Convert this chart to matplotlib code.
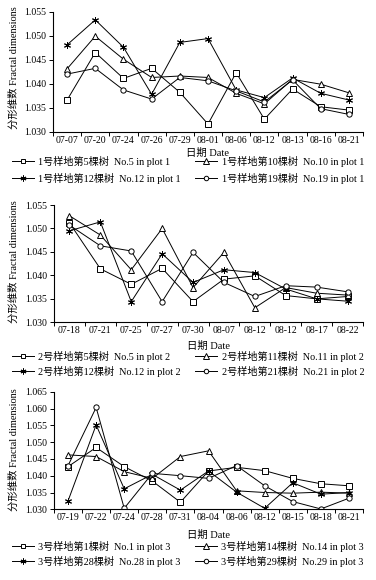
import matplotlib
matplotlib.use("Agg")
import matplotlib.pyplot as plt

plt.rcParams['font.family'] = ['Liberation Serif', 'Noto Sans CJK SC']
plt.rcParams['axes.unicode_minus'] = False

# ---- Panel 1 data ----
dates1 = ["07-07", "07-20", "07-24", "07-26", "07-29", "08-01", "08-06", "08-12", "08-13", "08-16", "08-21"]
p1_no5 = [1.0366, 1.0465, 1.0411, 1.0432, 1.0382, 1.0316, 1.0423, 1.0326, 1.0389, 1.0352, 1.0345]
p1_no10 = [1.0431, 1.0499, 1.0451, 1.0413, 1.0416, 1.0413, 1.0380, 1.0358, 1.0409, 1.0399, 1.0381]
p1_no12 = [1.0481, 1.0533, 1.0476, 1.0378, 1.0486, 1.0494, 1.0387, 1.0371, 1.0412, 1.0380, 1.0366]
p1_no19 = [1.0420, 1.0432, 1.0387, 1.0368, 1.0413, 1.0406, 1.0385, 1.0362, 1.0408, 1.0348, 1.0336]
labels1 = ["1号样地第5棵树  No.5 in plot 1", "1号样地第10棵树  No.10 in plot 1",
           "1号样地第12棵树  No.12 in plot 1", "1号样地第19棵树  No.19 in plot 1"]

# ---- Panel 2 data ----
dates2 = ["07-18", "07-21", "07-25", "07-27", "07-30", "08-07", "08-12", "08-12", "08-17", "08-22"]
p2_no5 = [1.0512, 1.0414, 1.0381, 1.0415, 1.0344, 1.0392, 1.0399, 1.0357, 1.0350, 1.0355]
p2_no11 = [1.0527, 1.0486, 1.0412, 1.0500, 1.0374, 1.0449, 1.0331, 1.0374, 1.0362, 1.0358]
p2_no12 = [1.0495, 1.0514, 1.0344, 1.0446, 1.0385, 1.0412, 1.0406, 1.0371, 1.0350, 1.0345]
p2_no21 = [1.0507, 1.0463, 1.0452, 1.0344, 1.0449, 1.0385, 1.0355, 1.0378, 1.0375, 1.0365]
labels2 = ["2号样地第5棵树  No.5 in plot 2", "2号样地第11棵树  No.11 in plot 2",
           "2号样地第12棵树  No.12 in plot 2", "2号样地第21棵树  No.21 in plot 2"]

# ---- Panel 3 data ----
dates3 = ["07-19", "07-22", "07-24", "07-28", "07-31", "08-04", "08-06", "08-12", "08-15", "08-18", "08-21"]
p3_no1 = [1.0427, 1.0484, 1.0427, 1.0384, 1.0321, 1.0414, 1.0425, 1.0415, 1.0392, 1.0376, 1.0370]
p3_no14 = [1.0462, 1.0457, 1.0412, 1.0392, 1.0457, 1.0474, 1.0355, 1.0350, 1.0348, 1.0351, 1.0348]
p3_no28 = [1.0325, 1.0551, 1.0361, 1.0404, 1.0357, 1.0414, 1.0351, 1.0303, 1.0379, 1.0345, 1.0350]
p3_no29 = [1.0430, 1.0603, 1.0303, 1.0407, 1.0400, 1.0392, 1.0430, 1.0370, 1.0323, 1.0301, 1.0333]
labels3 = ["3号样地第1棵树  No.1 in plot 3", "3号样地第14棵树  No.14 in plot 3",
           "3号样地第28棵树  No.28 in plot 3", "3号样地第29棵树  No.29 in plot 3"]

W, H = 376, 580
fig = plt.figure(figsize=(W / 100, H / 100), dpi=100)

markers = [dict(marker='s', ms=4.0), dict(marker='^', ms=4.3),
           dict(marker=(6, 2, 0), ms=5.0, mew=0.7), dict(marker='o', ms=3.8)]


def px(x0, y0, x1, y1):
    return [x0 / W, 1 - y1 / H, (x1 - x0) / W, (y1 - y0) / H]


def panel(rect, dates, series, labels, ylim, yticks, ylab_y, xlab_y, leg_y, leg_sp):
    ax = fig.add_axes(px(*rect))
    n = len(dates)
    xs = list(range(n))
    handles = []
    for s, m in zip(series, markers):
        h, = ax.plot(xs, s, color='black', lw=0.7, mfc='white', mec='black',
                     mew=m.get('mew', 0.7), marker=m['marker'], ms=m['ms'])
        handles.append(h)
    ax.set_xlim(-0.5, n - 0.5)
    ax.set_ylim(*ylim)
    ax.set_yticks(yticks)
    ax.set_yticklabels([f"{v:.3f}" for v in yticks], fontsize=7)
    ax.set_xticks([i - 0.5 for i in range(n + 1)])
    ax.set_xticklabels([])
    ax.set_xticks(xs, minor=True)
    ax.set_xticklabels(dates, minor=True, fontsize=7)
    ax.tick_params(axis='x', which='minor', length=0, pad=3)
    ax.tick_params(axis='x', which='major', length=3, width=0.7, direction='out')
    ax.tick_params(axis='y', length=3, width=0.7, direction='out', pad=2)
    for sp in ['top', 'right']:
        ax.spines[sp].set_visible(False)
    for sp in ['left', 'bottom']:
        ax.spines[sp].set_linewidth(0.8)
    fig.text(14 / W, 1 - ylab_y / H, "分形维数 Fractal dimensions", rotation=90,
             ha='center', va='center', fontsize=7.5)
    cx = (rect[0] + rect[2]) / 2
    fig.text(cx / W, 1 - xlab_y / H, "日期 Date", ha='center', va='center', fontsize=7.5)
    order = [0, 2, 1, 3]
    fig.legend([handles[i] for i in order], [labels[i] for i in order],
               ncol=2, loc='upper left', bbox_to_anchor=(12 / W, 1 - leg_y / H),
               frameon=False, fontsize=7.3, handlelength=2.2, handletextpad=0.4,
               columnspacing=1.4, labelspacing=leg_sp, borderpad=0, borderaxespad=0,
               markerscale=0.85)
    return ax


panel((53, 11.7, 363, 131.7), dates1, [p1_no5, p1_no10, p1_no12, p1_no19], labels1,
      (1.030, 1.055), [1.030, 1.035, 1.040, 1.045, 1.050, 1.055], 68, 153, 156, 0.55)
panel((54, 205, 363, 322.3), dates2, [p2_no5, p2_no11, p2_no12, p2_no21], labels2,
      (1.030, 1.055), [1.030, 1.035, 1.040, 1.045, 1.050, 1.055], 262, 346, 351, 0.35)
panel((54, 391.7, 363, 509.3), dates3, [p3_no1, p3_no14, p3_no28, p3_no29], labels3,
      (1.030, 1.065), [1.030, 1.035, 1.040, 1.045, 1.050, 1.055, 1.060, 1.065], 450, 535, 541, 0.35)

fig.savefig("out.png", dpi=100)
